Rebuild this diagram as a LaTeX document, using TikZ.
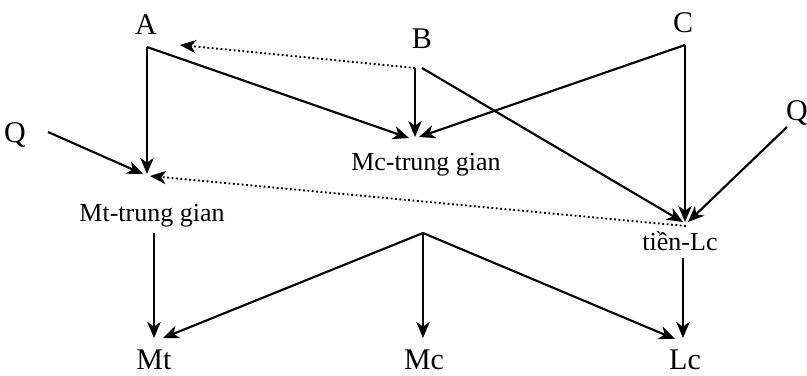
\documentclass[tikz,border=0pt]{standalone}
\usepackage{fontspec}
\setmainfont{Liberation Serif}
\usetikzlibrary{arrows.meta}
\begin{document}
\begin{tikzpicture}[x=0.75pt,y=-0.75pt,
  big/.style={font=\fontsize{22.5}{24}\selectfont,inner sep=0pt,anchor=base},
  small/.style={font=\fontsize{19.5}{21}\selectfont,inner sep=0pt,anchor=base},
  conn/.style={line width=1.6pt,-{Stealth[length=12pt,width=10pt,inset=3.5pt]}},
  dotconn/.style={line width=1.4pt,dash pattern=on 1.4pt off 1.9pt,-{Stealth[length=12pt,width=10pt,inset=3.5pt]}}]
\useasboundingbox (0,0) rectangle (807,375);
% labels
\node[big] (A) at (146,34) {A};
\node[big] (B) at (422,48) {B};
\node[big] (C) at (683,32) {C};
\node[big] (Ql) at (15,142) {Q};
\node[big] (Qr) at (797,120) {Q};
\node[small] (Mtg) at (152,221) {Mt-trung gian};
\node[small] (Mcg) at (426,170) {Mc-trung gian};
\node[small] (tLc) at (680,250) {tiền-Lc};
\node[big] (Mt) at (154,369) {Mt};
\node[big] (Mc) at (424,369) {Mc};
\node[big] (Lc) at (685,369) {Lc};
% connector points
\coordinate (a0) at (147,47);
\coordinate (aT) at (180,45);
\coordinate (b0) at (415,68);
\coordinate (b1) at (422,68);
\coordinate (c0) at (685,45);
\coordinate (ql0) at (48,132);
\coordinate (qr0) at (787,127);
\coordinate (mtgT) at (147,174);
\coordinate (mtgL) at (143,174);
\coordinate (mtgR) at (150,176);
\coordinate (mtgB) at (154,233);
\coordinate (mcgL) at (409,138);
\coordinate (mcgT) at (415,137);
\coordinate (mcgR) at (419,137);
\coordinate (tlcL) at (683,222);
\coordinate (tlcT) at (685,222);
\coordinate (tlcR) at (688,222);
\coordinate (tlcD) at (686,226);
\coordinate (tlcB) at (683,258);
\coordinate (j) at (423,233);
\coordinate (mtT) at (154,338);
\coordinate (mtR) at (163,338);
\coordinate (mcT) at (423,338);
\coordinate (lcL) at (675,339);
\coordinate (lcT) at (683,338);
% connectors
\draw[conn] (a0) -- (mtgT);
\draw[conn] (a0) -- (mcgL);
\draw[dotconn] (b0) -- (aT);
\draw[conn] (b0) -- (mcgT);
\draw[conn] (b1) -- (tlcL);
\draw[conn] (c0) -- (tlcT);
\draw[conn] (c0) -- (mcgR);
\draw[conn] (qr0) -- (tlcR);
\draw[conn] (ql0) -- (mtgL);
\draw[dotconn] (tlcD) -- (mtgR);
\draw[conn] (mtgB) -- (mtT);
\draw[conn] (j) -- (mtR);
\draw[conn] (j) -- (mcT);
\draw[conn] (j) -- (lcL);
\draw[conn] (tlcB) -- (lcT);
\end{tikzpicture}
\end{document}
